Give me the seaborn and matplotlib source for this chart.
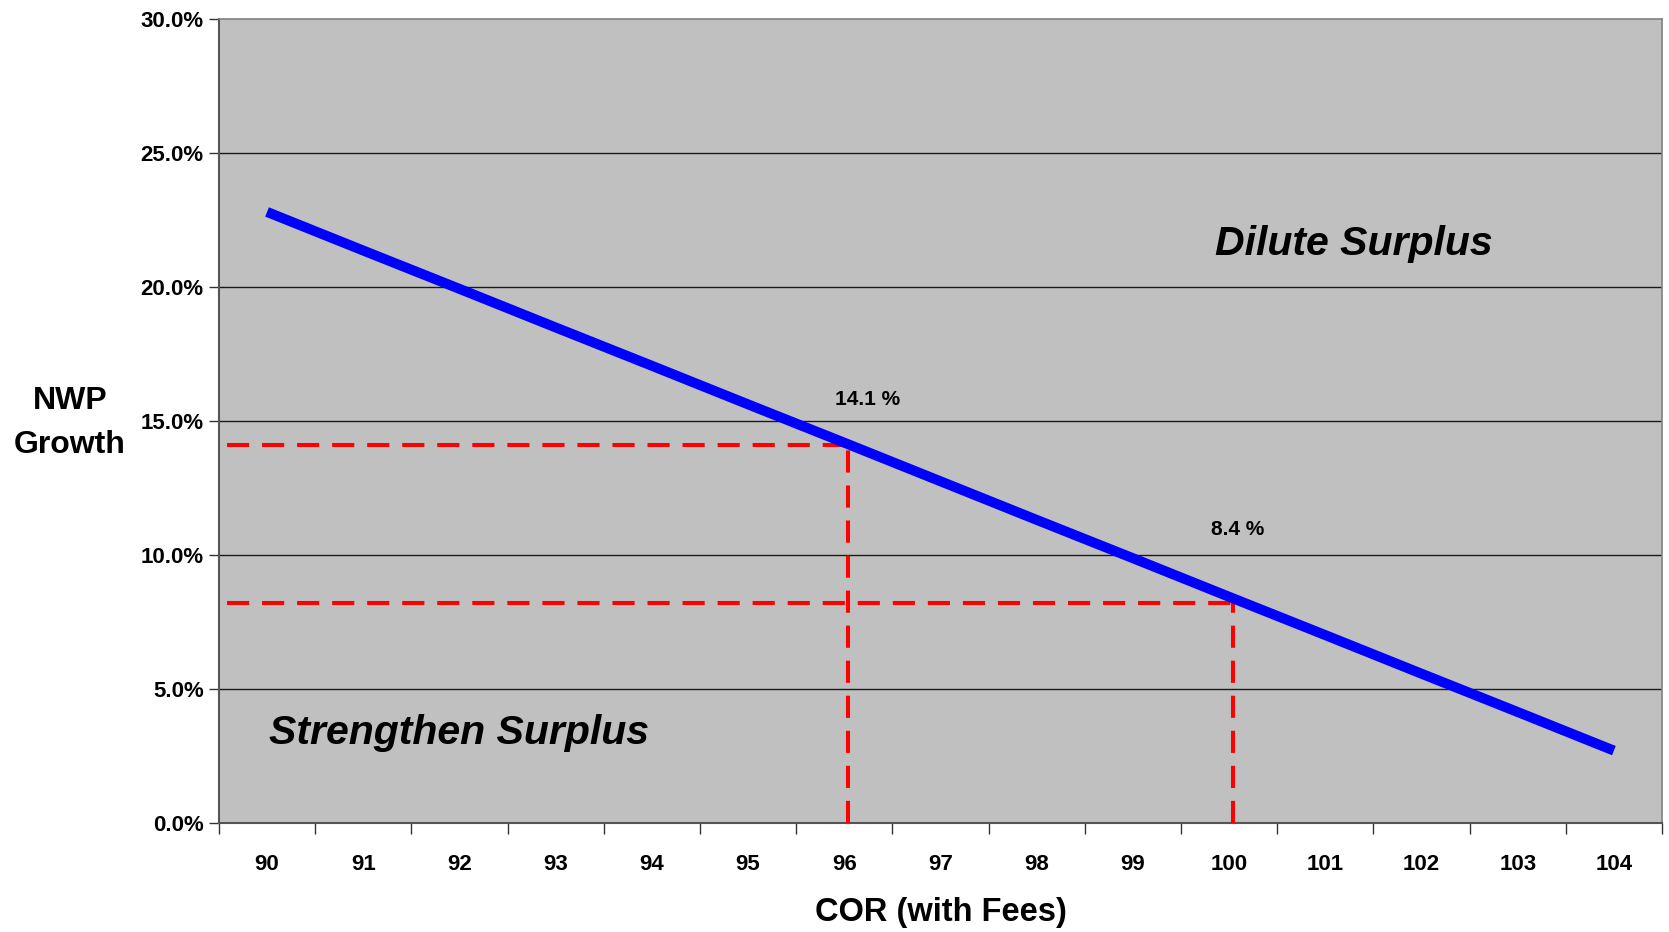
import numpy as np
import pandas as pd
import matplotlib
matplotlib.use("Agg")
import matplotlib.pyplot as plt
import seaborn as sns

# ---- data ----
cor = [90, 91, 92, 93, 94, 95, 96, 97, 98, 99, 100, 101, 102, 103, 104]
nwp_growth = [22.80, 21.36, 19.93, 18.49, 17.06, 15.62, 14.19, 12.75,
              11.31, 9.88, 8.44, 7.01, 5.57, 4.14, 2.70]
ref_cor = [96, 100]
ref_level = [14.1, 8.2]
ref_labels = ["14.1 %", "8.4 %"]
ref_label_y = [15.8, 10.95]
ref_label_dx = [0.24, 0.09]
y_ticks = [0, 5, 10, 15, 20, 25, 30]

sns.set_theme(style="white")
plt.rcParams['font.family'] = ['Liberation Sans', 'DejaVu Sans']
plt.rcParams['font.weight'] = 'bold'
plt.rcParams['text.color'] = 'black'
plt.rcParams['xtick.color'] = 'black'
plt.rcParams['ytick.color'] = 'black'
plt.rcParams['axes.labelcolor'] = 'black'

fig = plt.figure(figsize=(16.69, 9.32), dpi=100)
ax = fig.add_axes([0.1312, 0.117, 0.9958 - 0.1312, 0.9796 - 0.117])
ax.set_facecolor('#C0C0C0')

pos = np.arange(len(cor))
df = pd.DataFrame({"pos": pos, "growth": nwp_growth})

# gridlines
for yv in y_ticks[1:-1]:
    ax.axhline(yv, color='#1a1a1a', lw=1.0, zorder=1)

sns.lineplot(data=df, x="pos", y="growth", ax=ax, color='#0000FF', lw=7.2,
             solid_capstyle='butt', zorder=4)

# reference dashed lines
for c, lvl, lab, ly, dx in zip(ref_cor, ref_level, ref_labels, ref_label_y, ref_label_dx):
    xi = cor.index(c) + 0.04
    ax.plot([-0.42, xi], [lvl, lvl], color='#FF0000', lw=2.9, ls=(0, (5.5, 3.2)), zorder=3)
    ax.plot([xi, xi], [0, lvl], color='#FF0000', lw=2.9, ls=(0, (5.5, 3.2)), zorder=3)
    ax.text(xi + dx - 0.04, ly, lab, ha='center', va='center', fontsize=15,
            fontweight='bold', color='black', zorder=5)

ax.set_xlim(-0.5, len(cor) - 0.5)
ax.set_ylim(0, 30)

# x ticks: marks at boundaries, labels at centres
ax.set_xticks(np.arange(-0.5, len(cor), 1.0))
ax.set_xticklabels([])
ax.set_xticks(pos, minor=True)
ax.set_xticklabels([str(c) for c in cor], minor=True, fontsize=16, fontweight='bold')
ax.tick_params(axis='x', which='major', direction='out', length=8, width=1, color='#333333', bottom=True)
ax.tick_params(axis='x', which='minor', length=0, pad=22)

ax.set_yticks(y_ticks)
ax.set_yticklabels([f"{v:.1f}%" for v in y_ticks], fontsize=16, fontweight='bold')
ax.tick_params(axis='y', which='major', direction='out', length=7, width=1, color='#333333', left=True, pad=4)

for side in ['left', 'bottom']:
    ax.spines[side].set_color('#555555')
    ax.spines[side].set_linewidth(1.5)
for side in ['top', 'right']:
    ax.spines[side].set_color('#808080')
    ax.spines[side].set_linewidth(1.2)

ax.set_xlabel("COR (with Fees)", fontsize=23.5, fontweight='bold', labelpad=16)
ax.set_ylabel("")
fig.text(70 / 1669, 1 - 423 / 932, "NWP\nGrowth", ha='center', va='center',
         fontsize=23, fontweight='bold', linespacing=1.6)

ax.text(11.3, 21.6, "Dilute Surplus", ha='center', va='center', fontsize=29.5,
        fontweight='bold', fontstyle='italic', zorder=5)
ax.text(2.0, 3.36, "Strengthen Surplus", ha='center', va='center', fontsize=29.5,
        fontweight='bold', fontstyle='italic', zorder=5)

fig.savefig("out.png", dpi=100)
